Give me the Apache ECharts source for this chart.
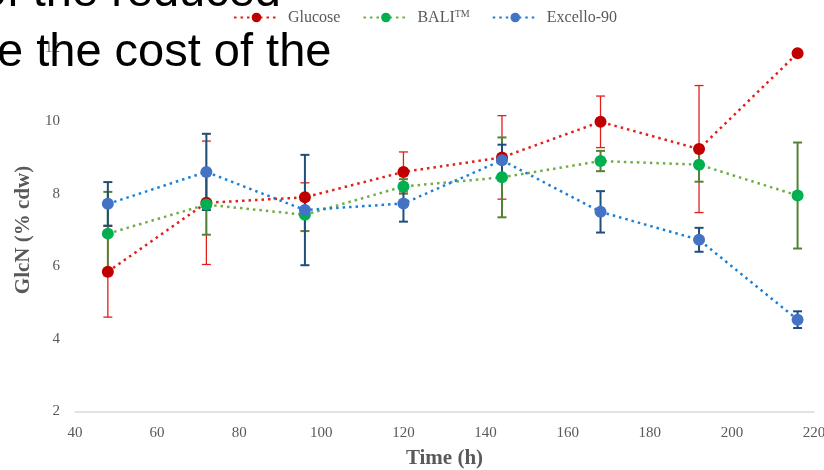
<!DOCTYPE html>
<html>
<head>
<meta charset="utf-8">
<script src="https://cdn.jsdelivr.net/npm/echarts@6/dist/echarts.min.js"></script>
<style>
  html, body { margin: 0; padding: 0; background: #fff; }
  #chart { width: 824px; height: 470px; }
</style>
</head>
<body>
<div id="chart"></div>
<script>
// time points (h)
var hours = [48, 72, 96, 120, 144, 168, 192, 216];
// GlcN (% cdw) and std dev per feedstock
var glucose = [5.85, 7.75, 7.9, 8.6, 9.0, 9.98, 9.23, 11.87];
var glucoseErr = [1.25, 1.7, 0.4, 0.55, 1.15, 0.71, 1.75, 0];
var bali = [6.9, 7.7, 7.42, 8.2, 8.45, 8.9, 8.8, 7.95];
var baliErr = [1.15, 0.83, 0.45, 0.2, 1.1, 0.28, 0.47, 1.46];
var excello = [7.72, 8.6, 7.55, 7.73, 8.92, 7.5, 6.73, 4.53];
var excelloErr = [0.6, 1.05, 1.52, 0.5, 0.43, 0.57, 0.33, 0.23];

var serif = '"Liberation Serif", "DejaVu Serif", serif';
var sans = '"Liberation Sans", Arial, sans-serif';

function pairs(vals) {
  return hours.map(function (h, i) { return [h, vals[i]]; });
}
function triples(vals, errs) {
  return hours.map(function (h, i) { return [h, vals[i], errs[i]]; });
}

// draws a vertical error bar with caps
function errRender(color, width) {
  return function (params, api) {
    var x = api.value(0), y = api.value(1), e = api.value(2);
    if (!e) return;
    var hi = api.coord([x, y + e]);
    var lo = api.coord([x, y - e]);
    var cw = 4.5;
    var style = { stroke: color, lineWidth: width };
    return {
      type: 'group',
      children: [
        { type: 'line', shape: { x1: hi[0], y1: hi[1], x2: lo[0], y2: lo[1] }, style: style },
        { type: 'line', shape: { x1: hi[0] - cw, y1: hi[1], x2: hi[0] + cw, y2: hi[1] }, style: style },
        { type: 'line', shape: { x1: lo[0] - cw, y1: lo[1], x2: lo[0] + cw, y2: lo[1] }, style: style }
      ]
    };
  };
}

function lineSeries(name, data, lineColor, markColor) {
  return {
    name: name,
    type: 'line',
    data: pairs(data),
    symbol: 'circle',
    symbolSize: 12,
    z: 3,
    itemStyle: { color: markColor },
    lineStyle: { color: lineColor, width: 2.5, type: [2.5, 4] },
    emphasis: { disabled: true },
    animation: false
  };
}

function errSeries(vals, errs, color, width) {
  return {
    type: 'custom',
    data: triples(vals, errs),
    renderItem: errRender(color, width),
    encode: { x: 0, y: 1 },
    z: 2,
    silent: true,
    animation: false
  };
}

var chart = echarts.init(document.getElementById('chart'));
chart.setOption({
  backgroundColor: '#fff',
  animation: false,
  legend: {
    top: 4,
    left: 228,
    itemWidth: 45,
    itemHeight: 12,
    itemGap: 22,
    data: ['Glucose', 'BALI™', 'Excello-90'],
    textStyle: {
      fontFamily: serif, fontSize: 16, color: '#595959', padding: [0, 0, 0, 4],
      rich: { sup: { fontFamily: serif, fontSize: 10, color: '#595959', verticalAlign: 'top', padding: [0, 0, 7, 0] } }
    },
    formatter: function (n) { return n === 'BALI™' ? 'BALI{sup|TM}' : n; }
  },
  grid: { left: 75, right: 10, top: 48.5, bottom: 58.5, containLabel: false, outerBoundsMode: 'none' },
  xAxis: {
    type: 'value', min: 40, max: 220, interval: 20,
    name: 'Time (h)', nameLocation: 'middle', nameGap: 37,
    nameTextStyle: { fontFamily: serif, fontSize: 21, fontWeight: 'bold', color: '#595959' },
    axisLine: { lineStyle: { color: '#d9d9d9', width: 1.5 } },
    axisTick: { show: false },
    splitLine: { show: false },
    axisLabel: { fontFamily: serif, fontSize: 15, color: '#595959', margin: 14 }
  },
  yAxis: {
    type: 'value', min: 2, max: 12, interval: 2,
    name: 'GlcN (% cdw)', nameLocation: 'middle', nameGap: 40,
    nameTextStyle: { fontFamily: serif, fontSize: 21, fontWeight: 'bold', color: '#595959' },
    axisLine: { show: false },
    axisTick: { show: false },
    splitLine: { show: false },
    axisLabel: { fontFamily: serif, fontSize: 15, color: '#595959', margin: 15 }
  },
  series: [
    errSeries(glucose, glucoseErr, '#E0201B', 1.3),
    errSeries(bali, baliErr, '#548235', 2),
    errSeries(excello, excelloErr, '#1F4E79', 2),
    lineSeries('Glucose', glucose, '#E0201B', '#C00000'),
    lineSeries('BALI™', bali, '#70AD47', '#00B050'),
    lineSeries('Excello-90', excello, '#1A7FD6', '#4472C4')
  ],
  graphic: [
    {
      type: 'text', z: 100,
      x: 281, y: 17,
      style: { text: 'of the reduced', font: '47px ' + sans, fill: '#000', align: 'right', verticalAlign: 'bottom' }
    },
    {
      type: 'text', z: 100,
      x: -3, y: 77,
      style: { text: 'e the cost of the', font: '47px ' + sans, fill: '#000', align: 'left', verticalAlign: 'bottom' }
    }
  ]
});
</script>
</body>
</html>
